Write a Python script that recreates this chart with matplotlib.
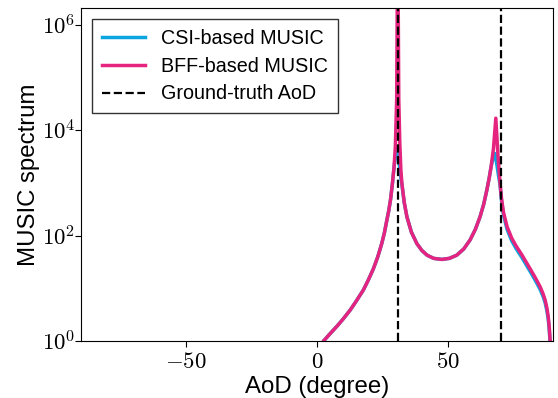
import numpy as np
import matplotlib
matplotlib.use("Agg")
import matplotlib.pyplot as plt

plt.rcParams['mathtext.fontset'] = 'cm'
plt.rcParams['font.family'] = ['Liberation Sans', 'DejaVu Sans']

# AoD sample points (degrees) and log10 of MUSIC spectrum
aod_bff = [1.5, 2.5, 5, 7.6, 10, 12.7, 15, 17.7, 19.5, 21.5, 23.2, 24.7, 25.7, 26.6, 27.4,
           28.1, 28.8, 29.4, 29.9, 30.4, 30.8, 31.2, 31.6, 32.0, 32.4, 33.3, 34.3, 36.0,
           38.1, 40, 42, 44.5, 47.6, 50.5, 53.3, 56, 58.4, 60.4, 62.2, 63.6, 64.8, 65.7,
           66.4, 67.3, 68.2, 69.0, 69.8, 70.4, 71.1, 72.5, 74.3, 76, 78.1, 80, 81.9, 83.5,
           85.1, 86.2, 87.0, 87.7, 88.2, 88.6, 88.9, 89.3]
bff_log10 = [-0.1, 0.0, 0.14, 0.28, 0.42, 0.59, 0.76, 0.97, 1.15, 1.37, 1.60, 1.85, 2.05, 2.28, 2.48,
             2.70, 3.0, 3.3, 3.7, 4.6, 8.0, 4.6, 3.75, 3.25, 2.99, 2.63, 2.36, 2.07,
             1.85, 1.72, 1.63, 1.57, 1.55, 1.57, 1.63, 1.75, 1.92, 2.12, 2.36, 2.6, 2.87, 3.1,
             3.31, 3.65, 4.23, 3.55, 3.0, 2.7, 2.45, 2.17, 1.95, 1.80, 1.64, 1.48, 1.32, 1.18,
             1.03, 0.9, 0.78, 0.62, 0.46, 0.25, 0.02, -0.4]

aod_csi = [1.5, 2.5, 5, 7.6, 10, 12.7, 15, 17.7, 19.5, 21.5, 23.2, 24.7, 25.7, 26.6, 27.4,
           28.1, 28.8, 29.4, 29.9, 30.6, 31.4, 32.0, 32.4, 33.3, 34.3, 36.0,
           38.1, 40, 42, 44.5, 47.6, 50.5, 53.3, 56, 58.4, 60.4, 62.2, 63.6, 64.8, 65.7,
           66.4, 67.3, 67.9, 68.5, 69.2, 69.8, 70.4, 71.1, 72.5, 74.3, 76, 78.1, 80, 81.9, 83.5,
           85.1, 86.2, 87.0, 87.7, 88.2, 88.6, 88.9, 89.3]
csi_log10 = [-0.1, 0.0, 0.14, 0.28, 0.42, 0.59, 0.76, 0.97, 1.15, 1.37, 1.60, 1.85, 2.05, 2.28, 2.48,
             2.70, 3.0, 3.3, 3.5, 3.62, 3.35, 3.1, 2.97, 2.62, 2.36, 2.07,
             1.85, 1.72, 1.63, 1.57, 1.55, 1.57, 1.63, 1.75, 1.92, 2.12, 2.36, 2.6, 2.87, 3.1,
             3.31, 3.5, 3.56, 3.38, 3.15, 2.97, 2.65, 2.40, 2.12, 1.90, 1.75, 1.59, 1.43, 1.27, 1.13,
             0.98, 0.85, 0.73, 0.57, 0.41, 0.2, -0.03, -0.45]

true_aod = [31, 70]

xticks = [-50, 0, 50]
yticks = [1e0, 1e2, 1e4, 1e6]

fig = plt.figure(figsize=(5.58, 3.98), dpi=100)
ax = fig.add_axes([0.145, 0.143, 0.846, 0.837])

ax.plot(aod_csi, 10.0 ** np.array(csi_log10), color='#0AA5E0', lw=2.5, label='CSI-based MUSIC')
ax.plot(aod_bff, 10.0 ** np.array(bff_log10), color='#E4247F', lw=2.5, label='BFF-based MUSIC')
for i, a in enumerate(true_aod):
    ax.axvline(a, color='black', ls='--', lw=1.6, label='Ground-truth AoD' if i == 0 else None)

ax.set_yscale('log')
ax.set_xlim(-90, 90)
ax.set_ylim(1, 2.1e6)
ax.set_xticks(xticks)
ax.set_xticklabels([r'$%d$' % t for t in xticks])
ax.set_yticks(yticks)
ax.set_yticklabels([r'$10^{%d}$' % int(np.log10(t)) for t in yticks])
ax.yaxis.set_minor_locator(matplotlib.ticker.NullLocator())
ax.tick_params(labelsize=16.5, length=4)
ax.tick_params(axis='y', pad=0)
ax.tick_params(axis='x', pad=2.5)

ax.set_xlabel('AoD (degree)', fontsize=17.3, labelpad=2)
ax.set_ylabel('MUSIC spectrum', fontsize=17.3, labelpad=1)

leg = ax.legend(loc='upper left', fontsize=14.2, fancybox=False, edgecolor='#333333',
                framealpha=1, handlelength=2.2, borderpad=0.5, labelspacing=0.45,
                borderaxespad=0.55)
leg.get_frame().set_linewidth(1.0)

fig.savefig('out.png', dpi=100)
